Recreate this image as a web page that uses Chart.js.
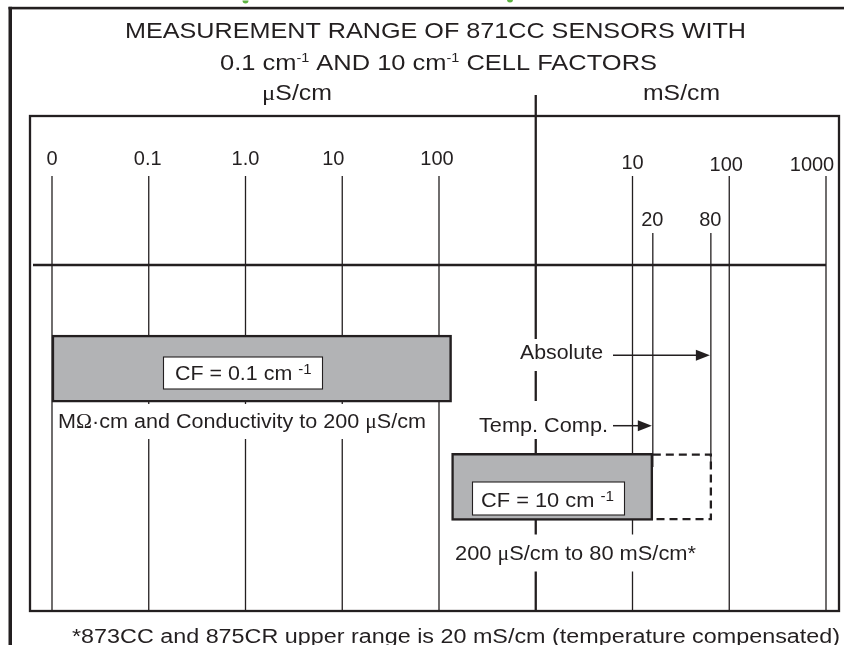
<!DOCTYPE html>
<html>
<head>
<meta charset="utf-8">
<script src="https://cdn.jsdelivr.net/npm/chart.js@4.4.1/dist/chart.umd.min.js"></script>
<style>
html,body{margin:0;padding:0;background:#fff;}
#wrap{width:844px;height:645px;position:relative;overflow:hidden;}
canvas{display:block;}
</style>
</head>
<body>
<div id="wrap"><canvas id="c" width="844" height="645"></canvas></div>
<script>
const decadeLabels = ['0', '0.1', '1.0', '10', '100', '10', '100', '1000'];
const decadePositions = [0, 1, 2, 3, 4, 6, 7, 8];
const unitDividerPosition = 5;            // 1000 µS/cm = 1 mS/cm
const unitLabels = ['µS/cm', 'mS/cm'];
const limitLabels = ['20', '80'];          // mS/cm
const limitPositions = [6.21, 6.81];
const rangeCF01 = [0, 4.13];               // CF = 0.1 cm-1 : 0 .. 200 µS/cm
const rangeCF10 = [4.13, 6.21];            // CF = 10 cm-1  : 200 µS/cm .. 20 mS/cm (temp. comp.)
const rangeCF10Absolute = [6.21, 6.81];    // extension to 80 mS/cm (absolute)
const rangeLabels = ['CF = 0.1 cm', 'CF = 10 cm'];
const rangeNotes = ['MΩ·cm and Conductivity to 200 µS/cm', '200 µS/cm to 80 mS/cm*'];
const arrowLabels = ['Absolute', 'Temp. Comp.'];
const titleLine1 = 'MEASUREMENT RANGE OF 871CC SENSORS WITH';
const footnote = '*873CC and 875CR upper range is 20 mS/cm (temperature compensated)';

// ---------------- LAYOUT ----------------
const INK = '#231f20';
const SANS = '"Liberation Sans", Arial, Helvetica, sans-serif';
const SERIF = '"Liberation Serif", "Times New Roman", serif';
const DECADE_PX = 96.75;
const X_MIN = -22 / DECADE_PX;
const X_MAX = 8 + 13 / DECADE_PX;
const ROW1 = 253.2, ROW2 = 383.2, BAR_H = 67;

function drawFit(ctx, segs, left, right, baseline, size) {
  ctx.save();
  let w = 0;
  segs.forEach(s => {
    const fs = s.size || size;
    ctx.font = fs + 'px ' + (s.serif ? SERIF : SANS);
    s._w = ctx.measureText(s.t).width;
    w += s._w;
  });
  const sx = (right - left) / w;
  ctx.translate(left, baseline);
  ctx.scale(sx, 1);
  ctx.fillStyle = INK;
  ctx.textBaseline = 'alphabetic';
  ctx.textAlign = 'left';
  let x = 0;
  segs.forEach(s => {
    const fs = s.size || size;
    ctx.font = fs + 'px ' + (s.serif ? SERIF : SANS);
    ctx.fillText(s.t, x, -(s.raise || 0));
    x += s._w;
  });
  ctx.restore();
}
function splitMu(str) {
  const out = [];
  let buf = '';
  for (const ch of str) {
    if (ch === 'µ' || ch === 'Ω') {
      if (buf) out.push({t: buf});
      out.push({t: ch === 'µ' ? 'μ' : 'Ω', serif: true});
      buf = '';
    } else buf += ch;
  }
  if (buf) out.push({t: buf});
  return out;
}
function vline(ctx, x, y0, y1, w) {
  ctx.beginPath(); ctx.lineWidth = w; ctx.strokeStyle = INK;
  ctx.moveTo(x, y0); ctx.lineTo(x, y1); ctx.stroke();
}
function hline(ctx, x0, x1, y, w) {
  ctx.beginPath(); ctx.lineWidth = w; ctx.strokeStyle = INK;
  ctx.moveTo(x0, y); ctx.lineTo(x1, y); ctx.stroke();
}
function arrow(ctx, x0, tip, y) {
  ctx.beginPath(); ctx.lineWidth = 1.5; ctx.strokeStyle = INK;
  ctx.moveTo(x0, y); ctx.lineTo(tip - 10, y); ctx.stroke();
  ctx.beginPath(); ctx.fillStyle = INK;
  ctx.moveTo(tip, y); ctx.lineTo(tip - 14, y - 5.5); ctx.lineTo(tip - 14, y + 5.5); ctx.closePath(); ctx.fill();
}

const diagramPlugin = {
  id: 'diagram',
  beforeDraw(chart) {
    const ctx = chart.ctx;
    ctx.save();
    ctx.fillStyle = '#fff';
    ctx.fillRect(0, 0, chart.width, chart.height);
    // cropped green marks of the page above
    ctx.fillStyle = '#5db342';
    ctx.beginPath(); ctx.arc(245.5, 0.5, 3, 0, Math.PI); ctx.fill();
    ctx.beginPath(); ctx.arc(510, -0.5, 3, 0, Math.PI); ctx.fill();
    // outer frame
    ctx.fillStyle = INK;
    ctx.fillRect(8.5, 6.8, 844, 2.6);
    ctx.fillRect(8.5, 6.8, 3.5, 645);
    ctx.restore();
  },
  beforeDatasetsDraw(chart) {
    const ctx = chart.ctx;
    const xs = chart.scales.x;
    const a = chart.chartArea;
    ctx.save();
    decadePositions.forEach(p => vline(ctx, xs.getPixelForValue(p), 176, a.bottom, 1.3));
    vline(ctx, xs.getPixelForValue(unitDividerPosition), 95, a.bottom, 2.3);
    limitPositions.forEach(p => vline(ctx, xs.getPixelForValue(p), 233, 467, 1.3));
    hline(ctx, 33, xs.getPixelForValue(decadePositions[decadePositions.length - 1]), 265, 2.6);
    ctx.fillStyle = '#fff';
    ctx.fillRect(55, 404, 374, 35);
    ctx.fillRect(515, 339, 92, 32);
    ctx.fillRect(474, 401, 137, 38);
    ctx.fillRect(448, 534.5, 252, 37);
    ctx.restore();
  },
  afterDatasetsDraw(chart) {
    const ctx = chart.ctx;
    const xs = chart.scales.x;
    const ys = chart.scales.y;
    const a = chart.chartArea;
    ctx.save();
    ctx.lineWidth = 2.3; ctx.strokeStyle = INK;
    ctx.strokeRect(a.left, a.top, a.right - a.left, a.bottom - a.top);

    const yT = ys.getPixelForValue(ROW2) - BAR_H / 2 + 1.2;
    const yB = ys.getPixelForValue(ROW2) + BAR_H / 2 - 1.2;
    const xL = xs.getPixelForValue(rangeCF10Absolute[0]);
    const xR = xs.getPixelForValue(rangeCF10Absolute[1]);
    ctx.beginPath(); ctx.lineWidth = 2.3; ctx.setLineDash([8, 5]);
    ctx.moveTo(xL, yT); ctx.lineTo(xR, yT); ctx.lineTo(xR, yB); ctx.lineTo(xL, yB); ctx.stroke();
    ctx.setLineDash([]);

    ctx.fillStyle = '#fff'; ctx.lineWidth = 1.1; ctx.strokeStyle = INK;
    ctx.fillRect(163.5, 357, 159, 32); ctx.strokeRect(163.5, 357, 159, 32);
    ctx.fillRect(472.5, 482, 152, 33); ctx.strokeRect(472.5, 482, 152, 33);
    drawFit(ctx, [{t: rangeLabels[0] + ' '}, {t: '-1', size: 14, raise: 6}], 175, 311.5, 380, 20);
    drawFit(ctx, [{t: rangeLabels[1] + ' '}, {t: '-1', size: 14, raise: 6}], 481, 614, 506.5, 20);

    drawFit(ctx, splitMu(rangeNotes[0]), 58, 426, 427.5, 20);
    drawFit(ctx, splitMu(rangeNotes[1]), 455, 696, 560, 20);

    drawFit(ctx, [{t: arrowLabels[0]}], 520, 603, 359.3, 20);
    drawFit(ctx, [{t: arrowLabels[1]}], 479, 608, 431.5, 20);
    arrow(ctx, 613, xs.getPixelForValue(limitPositions[1]) - 1, 355.3);
    arrow(ctx, 613, xs.getPixelForValue(limitPositions[0]) - 1, 425.7);

    drawFit(ctx, [{t: titleLine1}], 125, 746, 37.7, 22);
    drawFit(ctx, [
      {t: '0.1 cm'}, {t: '-1', size: 12.5, raise: 8},
      {t: ' AND 10 cm'}, {t: '-1', size: 12.5, raise: 8},
      {t: ' CELL FACTORS'}], 220, 657, 70, 22);
    drawFit(ctx, splitMu(unitLabels[0]), 262, 332, 100, 22);
    drawFit(ctx, splitMu(unitLabels[1]), 643, 720, 100, 22);

    const nudges = [0, -1, 0, -9, -2, 0, -3, -14];
    ctx.fillStyle = INK; ctx.textAlign = 'center'; ctx.textBaseline = 'alphabetic';
    ctx.font = '20px ' + SANS;
    decadeLabels.forEach((lab, i) => {
      const x = xs.getPixelForValue(decadePositions[i]) + nudges[i];
      const yb = decadePositions[i] > unitDividerPosition ? (i === 5 ? 169.3 : 170.5) : 165.3;
      ctx.fillText(lab, x, yb);
    });
    limitLabels.forEach((lab, i) => {
      ctx.fillText(lab, xs.getPixelForValue(limitPositions[i]) - 0.5, 226);
    });

    drawFit(ctx, [{t: footnote}], 72, 840, 642.7, 20);
    ctx.restore();
  }
};

new Chart(document.getElementById('c').getContext('2d'), {
  type: 'bar',
  data: {
    datasets: [{
      data: [{x: rangeCF01, y: ROW1}, {x: rangeCF10, y: ROW2}],
      backgroundColor: '#b2b3b5',
      borderColor: INK,
      borderWidth: 2.5,
      borderSkipped: false,
      barThickness: BAR_H,
      grouped: false
    }]
  },
  options: {
    indexAxis: 'y',
    responsive: false,
    devicePixelRatio: 1,
    animation: false,
    events: [],
    layout: {padding: {left: 30, right: 5, top: 116, bottom: 34}},
    scales: {
      x: {type: 'linear', min: X_MIN, max: X_MAX, display: false},
      y: {type: 'linear', min: 0, max: 495, reverse: true, display: false}
    },
    plugins: {legend: {display: false}, tooltip: {enabled: false}}
  },
  plugins: [diagramPlugin]
});
</script>
</body>
</html>
